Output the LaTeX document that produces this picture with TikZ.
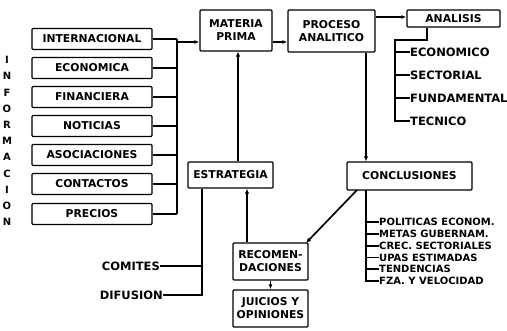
\documentclass[tikz,border=0pt]{standalone}
\usepackage{fontspec}
\setmainfont{DejaVu Sans}
\usetikzlibrary{arrows.meta}
\begin{document}
\begin{tikzpicture}[x=1pt,y=-1pt,
  box/.style={draw,line width=1.3pt,rounded corners=1pt,inner sep=0pt,font=\bfseries\fontsize{10.8}{13}\selectfont,align=center},
  lbl/.style={inner sep=0pt,font=\bfseries\fontsize{11.5}{12}\selectfont},
  sml/.style={inner sep=0pt,font=\bfseries\fontsize{11.5}{12}\selectfont,anchor=west},
  csml/.style={inner sep=0pt,font=\bfseries\fontsize{10}{11}\selectfont,anchor=west},
  ln/.style={line width=1.1pt},
  arr/.style={line width=1.1pt,-{Latex[length=5pt,width=4pt]}},
  thk/.style={line width=1.7pt,-{Latex[length=5pt,width=4.5pt]}}]
\useasboundingbox (0,0) rectangle (507,331);
% left boxes
\foreach \n/\t/\y in {i1/INTERNACIONAL/39,i2/ECONOMICA/68,i3/FINANCIERA/97,i4/NOTICIAS/126,i5/ASOCIACIONES/155,i6/CONTACTOS/184,i7/PRECIOS/214}
  \node[box,minimum width=120pt,minimum height=21pt] (\n) at (92,\y) {\t};
\coordinate (bt) at (177,39);
\coordinate (bb) at (177,214);
\draw[ln] (bt) -- (bb);
\foreach \n in {i1,i2,i3,i4,i5,i6,i7}
  \draw[ln] (\n.east) -- (\n.east -| bt);
% INFORMACION
\foreach \l [count=\k] in {I,N,F,O,R,M,A,C,I,O,N}
  \node[lbl,font=\bfseries\fontsize{10}{10}\selectfont] (v\k) at (7,{60+(\k-1)*16.2}) {\l};
% top boxes
\node[box,minimum width=72pt,minimum height=41pt] (mp) at (236,30.5) {MATERIA\\PRIMA};
\node[box,minimum width=87pt,minimum height=42pt] (pa) at (331.5,31) {PROCESO\\ANALITICO};
\node[box,minimum width=93pt,minimum height=17pt] (an) at (453.5,18.5) {ANALISIS};
\coordinate (ma) at (177,42);
\draw[arr] (ma) -- (ma -| mp.west);
\draw[arr] (mp.east |- 0,42) -- (pa.west |- 0,42);
\draw[arr] (pa.east |- 0,17) -- (an.west |- 0,17);
% analisis list
\node[sml] (a1) at (410,52) {ECONOMICO};
\node[sml] (a2) at (410,75) {SECTORIAL};
\node[sml] (a3) at (410,98) {FUNDAMENTAL};
\node[sml] (a4) at (410,121) {TECNICO};
\coordinate (ad) at (427,40);
\coordinate (av) at (395,40);
\draw[ln] (an.south -| ad) -- (ad) -- (av) -- (av |- a4.west) -- (a4.west);
\foreach \n in {a1,a2,a3} \draw[ln] (av |- \n.west) -- (\n.west);
% middle
\node[box,minimum width=85pt,minimum height=26pt] (es) at (230.5,175) {ESTRATEGIA};
\node[box,minimum width=125pt,minimum height=28pt] (co) at (409.5,176) {CONCLUSIONES};
\draw[thk] (pa.south -| 366,0) -- (co.north -| 366,0);
\draw[thk] (es.north -| 238,0) -- (mp.south -| 238,0);
% strategy outputs
\node[lbl,anchor=east] (cm) at (160,266) {COMITES};
\node[lbl,anchor=east] (df) at (163,295) {DIFUSION};
\coordinate (ev) at (202,295);
\draw[ln] (es.south -| ev) -- (ev) -- (df.east);
\draw[ln] (cm.east) -- (cm.east -| ev);
% bottom
\node[box,minimum width=75pt,minimum height=37pt] (rc) at (270.5,261.5) {RECOMEN-\\DACIONES};
\node[box,minimum width=75pt,minimum height=37pt] (jo) at (270.5,308.5) {JUICIOS Y\\OPINIONES};
\draw[thk] (rc.north -| 247,0) -- (es.south -| 247,0);
\draw[arr] (rc.south) -- (jo.north);
\draw[thk] (357,190) -- (306,243);
% conclusions list
\node[csml] (c1) at (379,222) {POLITICAS ECONOM.};
\node[csml] (c2) at (379,234) {METAS GUBERNAM.};
\node[csml] (c3) at (379,246) {CREC. SECTORIALES};
\node[csml] (c4) at (379,257.5) {UPAS ESTIMADAS};
\node[csml] (c5) at (379,269) {TENDENCIAS};
\node[csml] (c6) at (379,281) {FZA. Y VELOCIDAD};
\coordinate (cv) at (366,190);
\draw[ln] (cv) -- (cv |- c6.west) -- (c6.west);
\foreach \n in {c1,c2,c3,c4,c5} \draw[ln] (cv |- \n.west) -- (\n.west);
\end{tikzpicture}
\end{document}
